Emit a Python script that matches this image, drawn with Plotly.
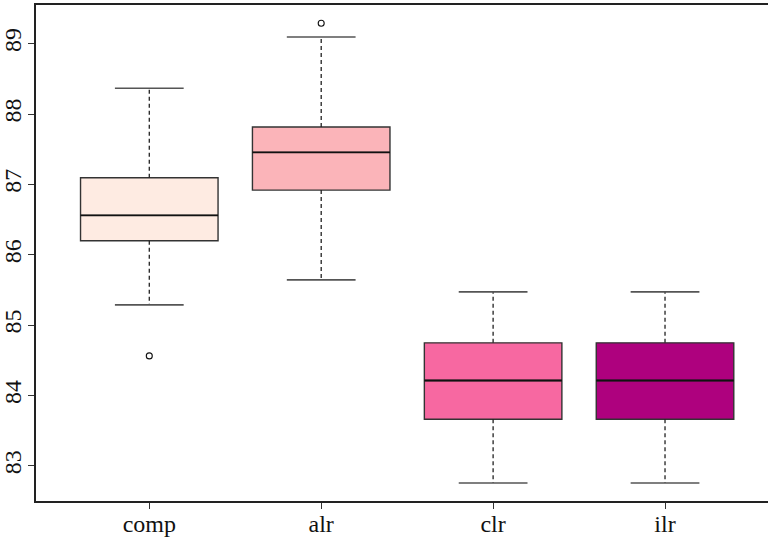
import plotly.graph_objects as go

categories = ["comp", "alr", "clr", "ilr"]
q1 = [86.20, 86.92, 83.664, 83.664]
median = [86.56, 87.456, 84.214, 84.214]
q3 = [87.095, 87.816, 84.749, 84.749]
lower_whisker = [85.289, 85.644, 82.758, 82.758]
upper_whisker = [88.366, 89.095, 85.474, 85.474]
outliers = [[84.564], [89.29], [], []]
fill_colors = ["#FEEBE2", "#FBB4B9", "#F768A1", "#AE017E"]
y_ticks = [83, 84, 85, 86, 87, 88, 89]

BOX_W = 0.8
CAP_HALF = 0.2
FONT = "Liberation Serif"

fig = go.Figure()

for i, cat in enumerate(categories):
    # dashed whiskers
    fig.add_trace(go.Scatter(
        x=[i, i, None, i, i],
        y=[q3[i], upper_whisker[i], None, q1[i], lower_whisker[i]],
        mode="lines", line=dict(color="#222222", width=1.3, dash="4px,3px"),
        showlegend=False, hoverinfo="skip"))
    # caps
    fig.add_trace(go.Scatter(
        x=[i - CAP_HALF, i + CAP_HALF, None, i - CAP_HALF, i + CAP_HALF],
        y=[upper_whisker[i], upper_whisker[i], None, lower_whisker[i], lower_whisker[i]],
        mode="lines", line=dict(color="#555555", width=1.6),
        showlegend=False, hoverinfo="skip"))
    # box body
    fig.add_trace(go.Box(
        x=[i], q1=[q1[i]], median=[median[i]], q3=[q3[i]],
        lowerfence=[q1[i]], upperfence=[q3[i]],
        width=BOX_W, whiskerwidth=0, boxpoints=False,
        fillcolor=fill_colors[i], line=dict(color="#333333", width=1.4),
        name=cat, showlegend=False))
    # median line
    fig.add_trace(go.Scatter(
        x=[i - BOX_W / 2, i + BOX_W / 2], y=[median[i], median[i]],
        mode="lines", line=dict(color="#111111", width=1.8),
        showlegend=False, hoverinfo="skip"))
    # outliers
    if outliers[i]:
        fig.add_trace(go.Scatter(
            x=[i] * len(outliers[i]), y=outliers[i], mode="markers",
            marker=dict(symbol="circle-open", size=6, color="#111111",
                        line=dict(width=1.1)),
            showlegend=False, hoverinfo="skip"))

fig.update_layout(
    width=768, height=538,
    margin=dict(l=36, r=0, t=5, b=37, pad=0),
    paper_bgcolor="white", plot_bgcolor="white",
    font=dict(family=FONT, size=24, color="#111111"),
    showlegend=False,
    xaxis=dict(
        range=[-0.659, 3.599], tickmode="array",
        tickvals=list(range(len(categories))), ticktext=categories,
        showgrid=False, zeroline=False, automargin=False,
        showline=True, linecolor="#222222", linewidth=1.5, mirror=True,
        ticks="outside", ticklen=6, tickcolor="#333333", tickwidth=1.3,
        ticklabelstandoff=-6,
        tickfont=dict(family=FONT, size=24),
    ),
    yaxis=dict(
        range=[82.502, 89.550], tickmode="array",
        tickvals=y_ticks, ticktext=[str(t) for t in y_ticks],
        showgrid=False, zeroline=False, automargin=False,
        showline=True, linecolor="#222222", linewidth=1.5, mirror=False,
        ticks="outside", ticklen=6, tickcolor="#333333", tickwidth=1.3,
        tickangle=-90, ticklabelstandoff=-2,
        tickfont=dict(family=FONT, size=24),
    ),
)

fig.write_html(
    "out.html",
    config={"displayModeBar": False},
    post_script="document.body.style.margin='0';document.body.style.overflow='hidden';",
)
